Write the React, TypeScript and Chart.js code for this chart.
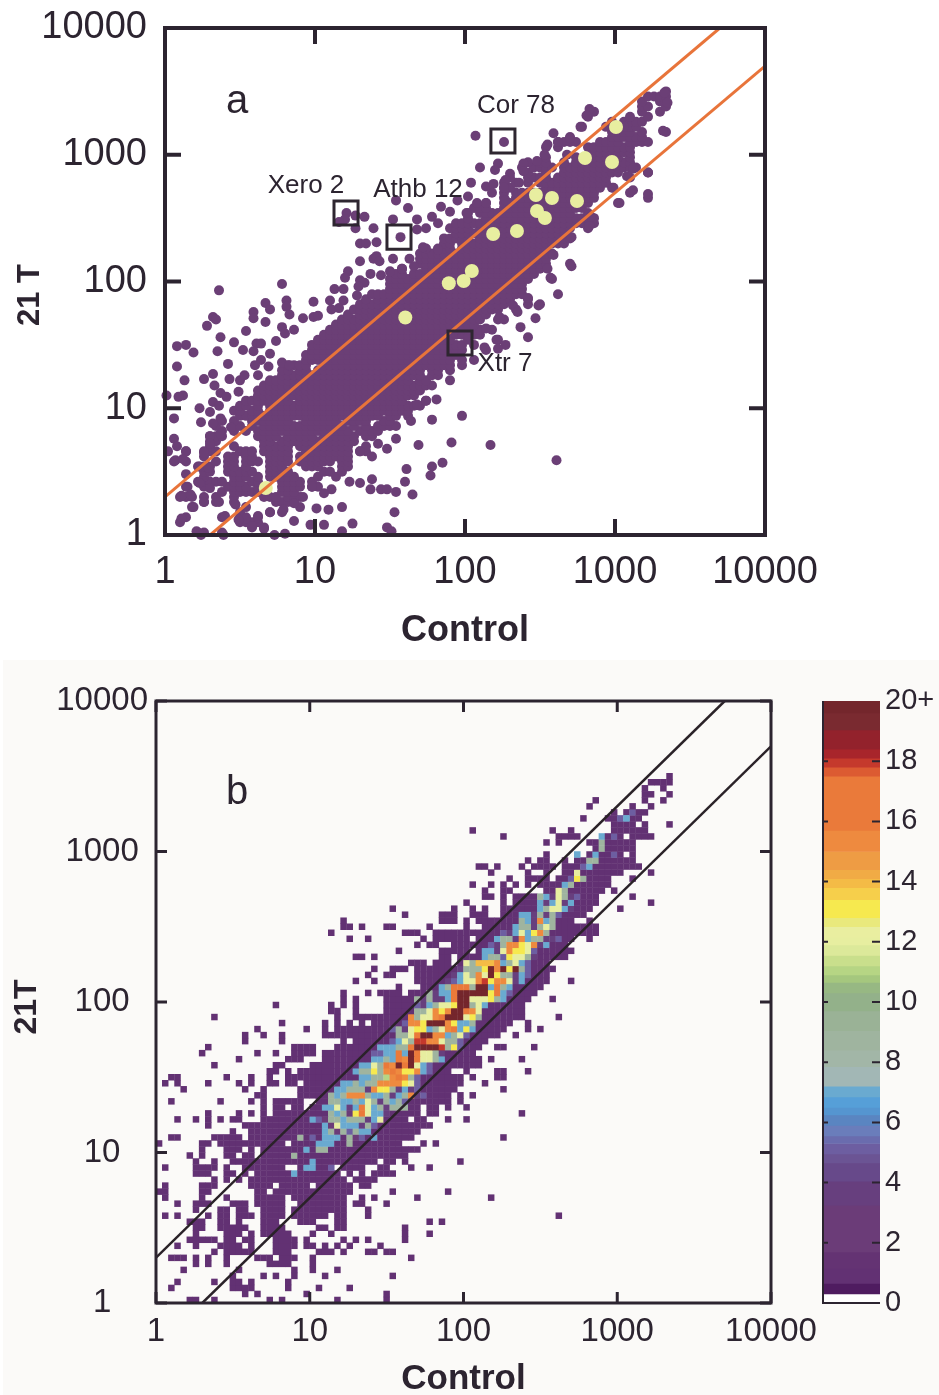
import React, { useEffect, useRef } from "react";
import { Chart, registerables } from "chart.js";

Chart.register(...registerables);

const axisTicks = [1, 10, 100, 1000, 10000];
const binsPerDecade = 25;
const ridgeBinsAbove = 13;
const ridgeBinsBelow = 17;

// Occupied bins of the expression histogram. Array index = 21T bin, tokens = Control bins.
const lowRows = [
  "5-6 9 18 20 29 37", "14 16 24 37", "2 12-15 21 26 31", "3 9 12-13 15 21", "12 17 19 22 27 38",
  "4 13 22 25 29", "6 8 11 18-21 25", "2-4 6 8 11 16-18 20-22 25 41",
  "9 11-15 19-21 26-28 30 34-35 37-38", "3 6 10-13 15 19-22 24-25 27 29 31 36",
  "5-9 11-12 14-15 19-22 24 30 32 34 40", "6 11-13 15 17-21 25 28 40 44",
  "6-7 10-14 17-20 26-27 29-30 40", "5-7 10-11 13 17-19 23-25 29-30 44 46",
  "1 3 8 10-11 13-15 17-20 22-27 29-30 34 65", "6 10-11 13-14 17-20 22-30 34",
  "3 6-8 12-14 16-20 23-30 32-33 37", "1 7 11 16-20 22-30 33 35 42 54",
  "0-1 7-8 16-17 19-31 38 47", "1 7-9 15-18 20-24 26-31 33-34",
  "9 11 13 15-30 32-35", "6-8 11-12 14 16-29 31 33 35-38",
  "1 6-9 11 14-20 23-28 30-33 36-37 41 44", "6 9 12-35 37-38 40 49",
  "5 7 11-12 14-15 17-40", "7 11-13 15 17-42", "0 7-8 10-20 22-39 43 45",
  "2-3 9-13 15-41 56", "12 15-42", "8 14-44",
];
const midRows = [
  "3 6 8 10 12-13 17-40 42-43 47 50", "8 13 15 17 19-42 44-45 59", "17 19-20 22-23 25-42 44-45 47 50",
  "2 10 15 17 19-23 26-47 49", "16-17 23-47 49 51", "4 14 17 23-48 56",
  "1 3 8 13 15 18-19 21-22 24-49 53", "2-3 11 15 18 21-49 51 55-56", "18-19 21 23-47 50 55-56 60",
  "9 19-20 25-52", "13 21-23 27-52 54 59", "7 16 19 22-25 27-51",
  "8 22-25 29-52 55-56 61", "14 20 30 32-53", "14 17 20 27-55 58",
  "16 24 27 29-56 60 62", "20 27 29 31 33 35-57 60", "9 29 32-59 65",
  "28-29 32 37-59", "19 28 30 32 37-59", "30 32 37-60 64", "30 34 36-39 41-61",
  "39 43-62", "32 35 42-63 67", "34 37-38 42-63", "35 38-40 42-64",
  "41-43 45-47 49-63", "32-33 35 46-47 49-66", "39 46-50 52-67", "42 44-45 48-66",
];
const highRows = [
  "31 34 43 45-50 52-67 70", "28 40-42 45-71", "30-31 33 37-38 44 50 53-71", "30 46-48 50 52-67 70",
  "40 46-48 51-53 56-69", "38 48 51 53 56-70 75", "50 56 58-71 80", "53-54 56 58-71 77",
  "53 56-57 63-72 74", "51 54 56 58 60 62-73", "57 60-63 65-73 77", "54 60 63 66-75 80",
  "52-53 55 59 61-64 66-78", "60 62-63 66 68-77", "63 68 70-75 77", "71-77", "63 65 70-77",
  "56 65-68 72-75 77-80", "51 64 67 74-79", "74-77 79 83", "69 73-75 77-78", "74 76-79",
  "70 77 80", "71 79 82", "79-80 83", "79 82", "80-83", "83",
];

// Counts inside the ridge: [21T bin, first Control bin, base-21 counts, 0 = leave as is].
const lowCore = [
  [21, 22, "7"], [22, 24, "77005"], [23, 25, "7"], [24, 22, "9"], [25, 24, "7099"],
  [26, 26, "77700900"], [27, 23, "9050777093507"], [28, 27, "79395977"], [29, 27, "73c777495"],
  [30, 25, "75399799947c"], [31, 28, "9793dgc774"], [32, 27, "77c747gc794999"],
  [33, 28, "997797c949795"], [34, 28, "979fff9779479f45"], [35, 29, "779994fdd94745"],
  [36, 30, "779799ffffdc5"], [37, 33, "7799bfgf95"], [38, 32, "799d9fgfddf75"],
  [39, 33, "77c9gfkgkc75"], [40, 35, "7797gfkgcc97"],
];
const midCore = [
  [41, 35, "5577g7kgcc94"], [42, 36, "77799gkkkki9d5"], [43, 38, "57c9iiffc995"],
  [44, 39, "99cgkkff79c5"], [45, 38, "594cdd79cfg7d7"], [46, 40, "5ffdkkkfd779"],
  [47, 41, "f9ccfgkkkcd9"], [48, 42, "99cfdfkkgfc"], [49, 42, "5479ccdkk9c7"],
  [50, 42, "949447gkkcccd97"], [51, 44, "9477gkkkkkdg75"], [52, 46, "79ggg9kk7g97"],
  [53, 47, "457ccfidffc47"], [54, 48, "47c9fckd99475"], [55, 49, "4999dkfkdk95"],
  [56, 50, "c9eeef79c75"], [57, 53, "7995dcc94"], [58, 53, "774cfddc5"], [59, 54, "549ffdcf47"],
];
const highCore = [
  [60, 55, "7994f799445"], [61, 56, "547c7df9"], [62, 58, "79949c9"], [63, 59, "974f79"],
  [64, 59, "7749495"], [65, 62, "79cc74"], [66, 62, "747c47"], [67, 62, "974c945"],
  [68, 65, "c9"], [69, 66, "79"], [70, 67, "5d9"], [71, 68, "c"], [72, 69, "57"], [73, 70, "99"],
  [74, 68, "7007005"], [75, 72, "9"], [76, 72, "9"], [77, 72, "705"], [80, 75, "57"], [81, 77, "5"],
];

// Single genes of panel a away from the ridge, as [log10 Control, log10 21 T].
const farAboveSmall = [
  [1.21, 2.54], [1.27, 2.52], [1.2, 2.49], [1.16, 2.47], [1.33, 2.51], [1.27, 2.42], [1.39, 2.42],
  [1.3, 2.3], [1.34, 2.3], [1.3, 2.16], [1.39, 2.18], [1.22, 2.08], [1.2, 2.03], [1.37, 2.06],
  [1.3, 2.01], [1.33, 1.99], [0.78, 1.98], [0.36, 1.93], [1.13, 1.94], [1.19, 1.94], [1.29, 1.96],
  [0.67, 1.83], [0.7, 1.78], [0.81, 1.85], [0.81, 1.8], [0.83, 1.74], [0.99, 1.84], [1.1, 1.85],
  [1.19, 1.85], [1.11, 1.78], [1.16, 1.79], [1.28, 1.89], [0.59, 1.76], [0.59, 1.71], [0.67, 1.68],
  [0.32, 1.72], [0.34, 1.7], [0.28, 1.65], [0.54, 1.61], [0.37, 1.56], [0.46, 1.52], [0.78, 1.64],
  [0.8, 1.59], [0.86, 1.62], [0.92, 1.71], [0.99, 1.72], [1.02, 1.73], [0.74, 1.53], [0.61, 1.51],
  [0.64, 1.51], [0.59, 1.45], [0.52, 1.46], [0.35, 1.45], [0.7, 1.43], [0.64, 1.38], [0.6, 1.34],
  [0.42, 1.35], [0.32, 1.27], [0.26, 1.23], [0.43, 1.23], [0.5, 1.22], [0.53, 1.26], [0.62, 1.26],
  [0.69, 1.33], [0.78, 1.36], [0.83, 1.34], [0.13, 1.22], [0.08, 1.33], [0.08, 1.49], [0.14, 1.5],
  [0.19, 1.44], [0.33, 1.18], [0.49, 1.13], [0.37, 1.12], [0.41, 1.09], [0.12, 1.1], [0.09, 1.09],
  [0.01, 1.1], [0.32, 1.05], [0.36, 1.02], [0.23, 1.0], [0.3, 0.97], [0.37, 0.92], [0.24, 0.89],
  [0.32, 0.88], [0.44, 0.85], [0.06, 0.92], [0.06, 0.76], [0.08, 0.7], [0.14, 0.66], [0.07, 0.59],
  [0.12, 0.6], [0.02, 0.66], [0.3, 0.78], [0.37, 0.8], [0.3, 0.72], [0.26, 0.65], [0.23, 0.54],
  [0.29, 0.53], [0.14, 0.48], [0.23, 0.41], [0.15, 0.38], [0.11, 0.31], [0.17, 0.32], [0.3, 0.37],
  [0.19, 0.22], [0.26, 0.26], [0.36, 0.26], [0.11, 0.13], [0.4, 0.15], [0.47, 0.24], [0.21, 0.03],
];
const farBelowSmall = [
  [1.68, 1.03], [1.74, 1.06], [1.81, 1.07], [1.78, 0.91], [1.98, 0.94], [1.64, 0.9], [1.54, 0.76],
  [1.69, 0.71], [1.91, 0.73], [1.42, 0.72], [1.48, 0.68], [1.38, 0.62], [1.3, 0.66], [1.78, 0.54],
  [1.85, 0.57], [1.77, 0.47], [1.61, 0.52], [1.6, 0.42], [1.38, 0.44], [1.3, 0.41], [1.23, 0.42],
  [1.37, 0.36], [1.44, 0.36], [1.48, 0.36], [1.54, 0.34], [1.65, 0.32], [1.53, 0.18], [1.18, 0.22],
  [1.09, 0.2], [1.25, 0.09], [1.06, 0.08], [0.97, 0.08], [0.8, 0.01], [0.73, 0], [0.66, 0.05],
  [0.58, 0.07], [1.48, 0.06], [1.51, 0.03], [1.18, 0.03], [0.86, 0.11], [0.79, 0.2], [1.01, 0.21],
  [1.11, 0.36], [1.06, 0.33], [0.98, 0.38], [0.92, 0.3], [0.86, 0.25], [0.7, 0.18], [0.62, 0.15],
  [0.54, 0.13], [0.49, 0.12], [0.39, 0], [0.24, 0], [2.17, 0.71], [2.61, 0.59],
];
const farAboveLarge = [
  [3.33, 3.49], [3.35, 3.41], [3.32, 3.19], [2.83, 3.36], [2.81, 3.31], [2.77, 3.22], [2.59, 3.17],
  [2.55, 3.08], [2.62, 3.1], [2.7, 3.13], [2.07, 3.15], [2.26, 3.1], [2.68, 3.0], [2.53, 3.0],
  [2.48, 2.95], [2.39, 2.93], [2.39, 2.87], [2.1, 2.9], [2.22, 2.93], [2.2, 2.88], [2.3, 2.85],
  [2.04, 2.78], [2.14, 2.75], [2.19, 2.77], [2.27, 2.8], [2.36, 2.78], [2.26, 2.74], [2.02, 2.67],
  [2.14, 2.62], [2.27, 2.64], [1.54, 2.64], [1.62, 2.58], [1.84, 2.59], [1.9, 2.55], [1.95, 2.64],
  [2.01, 2.54], [2.08, 2.62], [1.52, 2.49], [1.78, 2.51], [1.68, 2.49], [1.82, 2.46], [1.74, 2.42],
  [1.68, 2.41], [1.41, 2.31], [1.57, 2.35], [1.72, 2.27], [1.82, 2.25], [1.41, 2.2], [1.52, 2.18],
  [1.63, 2.18], [1.43, 2.16], [1.5, 2.08], [1.44, 2.05], [1.66, 2.12], [1.58, 2.1],
];
const farBelowLarge = [
  [3.22, 2.86], [3.22, 2.69], [3.12, 2.72], [3.03, 2.62], [2.99, 2.74], [3.12, 2.89], [3.08, 2.83],
  [2.83, 2.44], [2.84, 2.51], [2.71, 2.35], [2.71, 2.12], [2.59, 2.21], [2.55, 2.1], [2.57, 2.03],
  [2.62, 1.9], [2.42, 1.87], [2.49, 1.81], [2.32, 1.81], [2.35, 1.76], [2.47, 1.71], [2.23, 1.72],
  [2.37, 1.64], [2.42, 1.56], [2.21, 1.54], [2.27, 1.5], [2.13, 1.48], [2.22, 1.47], [2.14, 1.63],
];

// Highlighted genes in panel a (Control, 21 T).
const highlightControl = [1016, 631, 955, 558, 297, 380, 302, 341, 222, 154, 111, 98, 78, 40, 4.7];
const highlight21T = [1656, 943, 877, 432, 481, 456, 360, 317, 250, 237, 121, 101, 97, 52, 2.35];

// Boxed genes in panel a.
const boxedControl = [179, 16.1, 36.3, 92.6];
const boxed21T = [1283, 347, 224, 32.7];

// Two-fold guide lines.
const upperLineControl = [1, 5000];
const upperLine21T = [2, 10000];
const lowerLineControl = [2, 10000];
const lowerLine21T = [1, 5000];

// Colour bar bands.
const bandEdges = [
  20, 19.6, 19.04, 18.4, 18.1, 17.8, 17.5, 15.7, 15, 14.4, 14.1, 13.8, 13.4, 12.8, 12.5, 12.15, 11.9,
  11.55, 11.2, 10.9, 10.65, 10.3, 9.7, 9.05, 8.4, 7.85, 7.2, 6.85, 6.5, 6.25, 5.9, 5.55, 5.3, 4.95,
  4.65, 4.05, 3.25, 1.7, 1.15, 0.65, 0.3, 0,
];
const bandColors = [
  "#74262c", "#7a2a30", "#93222c", "#a8252b", "#c5392c", "#dc5b32", "#ea7a3a", "#ee8a3f", "#ee9c44",
  "#f1ab45", "#f4bb46", "#f6cf4b", "#f6e94f", "#e9e97c", "#e9eea0", "#e7eea0", "#dce99a", "#c9df8c",
  "#b6d584", "#a5c77e", "#97b883", "#93b18a", "#9ab296", "#9fb49f", "#a2b6a7", "#a2b7b5", "#6aaad0",
  "#569fd8", "#5595d0", "#5a85c1", "#6a7dbb", "#6a6cae", "#6d5ea1", "#6b5494", "#67498a", "#673f7e",
  "#6b3c78", "#643373", "#623173", "#4f1c60", "#ffffff",
];
const colorbarTicks = [0, 2, 4, 6, 8, 10, 12, 14, 16, 18, 20];

const FONT = "'Liberation Sans', Arial, sans-serif";
const INK = "#2c2430";
const DIGITS = "0123456789abcdefghijk";

function binValue(i: number) {
  return Math.pow(10, (i + 0.5) / binsPerDecade);
}

function buildCells() {
  const grid = new Map<string, number>();
  [...lowRows, ...midRows, ...highRows].forEach((row, r) => {
    row.split(" ").forEach((token) => {
      const [a, b] = token.split("-").map(Number);
      for (let c = a; c <= (b === undefined ? a : b); c++) grid.set(c + "," + r, 1);
    });
  });
  [...lowCore, ...midCore, ...highCore].forEach((entry) => {
    const [r, start, digits] = entry as [number, number, string];
    digits.split("").forEach((ch, k) => {
      const v = DIGITS.indexOf(ch);
      if (v > 0) grid.set(start + k + "," + r, v);
    });
  });
  return [...grid.entries()].map(([key, count]) => {
    const [c, r] = key.split(",").map(Number);
    return { c, r, x: binValue(c), y: binValue(r), count };
  });
}

function colorFor(v: number) {
  for (let i = 0; i < bandColors.length; i++) {
    if (v <= bandEdges[i] && v >= bandEdges[i + 1]) return bandColors[i];
  }
  return "#ffffff";
}

function pairs(xs: number[], ys: number[]) {
  return xs.map((x, i) => ({ x, y: ys[i] }));
}

function framePlugin(lineWidth: number, tickLen: number) {
  return {
    id: "frame",
    afterDatasetsDraw(chart: any) {
      const { ctx, chartArea: a, scales } = chart;
      ctx.save();
      ctx.strokeStyle = INK;
      ctx.lineWidth = lineWidth;
      ctx.lineCap = "square";
      ctx.strokeRect(a.left, a.top, a.right - a.left, a.bottom - a.top);
      ctx.lineCap = "butt";
      ctx.beginPath();
      axisTicks.forEach((v) => {
        const px = scales.x.getPixelForValue(v);
        ctx.moveTo(px, a.bottom);
        ctx.lineTo(px, a.bottom - tickLen);
        ctx.moveTo(px, a.top);
        ctx.lineTo(px, a.top + tickLen);
        const py = scales.y.getPixelForValue(v);
        ctx.moveTo(a.left, py);
        ctx.lineTo(a.left + tickLen, py);
        ctx.moveTo(a.right, py);
        ctx.lineTo(a.right - tickLen, py);
      });
      ctx.stroke();
      ctx.restore();
    },
  };
}

function textPlugin(items: { text: string; x: number; y: number; size: number; bold?: boolean; turned?: boolean }[]) {
  return {
    id: "labels",
    afterDraw(chart: any) {
      const { ctx } = chart;
      ctx.save();
      ctx.fillStyle = INK;
      ctx.textAlign = "center";
      ctx.textBaseline = "middle";
      items.forEach((t) => {
        ctx.save();
        ctx.font = (t.bold ? "bold " : "") + t.size + "px " + FONT;
        ctx.translate(t.x, t.y);
        if (t.turned) ctx.rotate(-Math.PI / 2);
        ctx.fillText(t.text, 0, 0);
        ctx.restore();
      });
      ctx.restore();
    },
  };
}

function fixFit(s: any, size: number) {
  if (s.isHorizontal()) s.height = size;
  else s.width = size;
  s.paddingTop = 0;
  s.paddingBottom = 0;
  s.paddingLeft = 0;
  s.paddingRight = 0;
}

function logAxis(o: { size: number; fit: number; pad: number; crossAlign?: string; title?: any }) {
  return {
    type: "logarithmic",
    min: 1,
    max: 10000,
    grid: { display: false, drawTicks: false },
    border: { display: false },
    afterBuildTicks: (s: any) => {
      s.ticks = axisTicks.map((v) => ({ value: v, major: true }));
    },
    afterFit: (s: any) => fixFit(s, o.fit),
    ticks: {
      autoSkip: false,
      maxRotation: 0,
      padding: o.pad,
      crossAlign: o.crossAlign || "near",
      color: INK,
      font: { family: FONT, size: o.size },
      callback: (v: any) => String(v),
    },
    title: o.title || { display: false },
  };
}

function controlTitle(size: number, bottom: number, line: number) {
  return {
    display: true,
    text: "Control",
    color: INK,
    padding: { top: 0, bottom },
    font: { family: FONT, size, weight: "bold", lineHeight: line },
  };
}

export default function App() {
  const refA = useRef<HTMLCanvasElement>(null);
  const refB = useRef<HTMLCanvasElement>(null);
  const refC = useRef<HTMLCanvasElement>(null);

  useEffect(() => {
    const cells = buildCells();
    const ridgeDots = cells
      .filter((c) => c.r - c.c <= ridgeBinsAbove && c.c - c.r <= ridgeBinsBelow)
      .map((c) => ({ x: c.x, y: c.y }));
    const farDots = [...farAboveSmall, ...farBelowSmall, ...farAboveLarge, ...farBelowLarge].map(([lx, ly]) => ({
      x: Math.pow(10, lx),
      y: Math.pow(10, ly),
    }));
    const base = {
      responsive: false,
      animation: false,
      events: [],
      plugins: { legend: { display: false }, tooltip: { enabled: false } },
    };

    const chartA = new Chart(refA.current as any, {
      type: "scatter",
      data: {
        datasets: [
          {
            data: [...ridgeDots, ...farDots],
            order: 4,
            clip: false,
            pointRadius: 5,
            pointBorderWidth: 0,
            pointBackgroundColor: "#6b3f76",
          },
          {
            data: pairs(highlightControl, highlight21T),
            order: 3,
            pointRadius: 7,
            pointBorderWidth: 0,
            pointBackgroundColor: "#e8eea0",
          },
          {
            data: pairs(upperLineControl, upperLine21T),
            order: 2,
            showLine: true,
            pointRadius: 0,
            borderColor: "#e8743a",
            borderWidth: 3,
          },
          {
            data: pairs(lowerLineControl, lowerLine21T),
            order: 2,
            showLine: true,
            pointRadius: 0,
            borderColor: "#e8743a",
            borderWidth: 3,
          },
          {
            data: pairs(boxedControl, boxed21T),
            order: 1,
            pointStyle: "rect",
            pointRadius: 17,
            pointBorderWidth: 3,
            pointBorderColor: "#2e2630",
            pointBackgroundColor: "rgba(0,0,0,0)",
          },
        ],
      },
      options: {
        ...base,
        layout: { padding: { top: 28, right: 174, left: 0, bottom: 0 } },
        scales: {
          x: logAxis({ size: 38, fit: 125, pad: 15, title: controlTitle(36, 11, 1) }),
          y: logAxis({ size: 38, fit: 165, pad: 18 }),
        },
      },
      plugins: [
        framePlugin(4, 16),
        textPlugin([
          { text: "a", x: 237, y: 102, size: 40 },
          { text: "Cor 78", x: 516, y: 106, size: 26 },
          { text: "Xero 2", x: 306, y: 186, size: 26 },
          { text: "Athb 12", x: 418, y: 190, size: 26 },
          { text: "Xtr 7", x: 505, y: 364, size: 26 },
          { text: "21 T", x: 30, y: 295, size: 31, bold: true, turned: true },
        ]),
      ],
    } as any);

    const chartB = new Chart(refB.current as any, {
      type: "scatter",
      data: {
        datasets: [
          {
            data: pairs(upperLineControl, upperLine21T),
            order: 1,
            showLine: true,
            pointRadius: 0,
            borderColor: "#2a2228",
            borderWidth: 2.5,
          },
          {
            data: pairs(lowerLineControl, lowerLine21T),
            order: 1,
            showLine: true,
            pointRadius: 0,
            borderColor: "#2a2228",
            borderWidth: 2.5,
          },
          {
            data: cells.map((c) => ({ x: c.x, y: c.y })),
            order: 2,
            pointStyle: "rect",
            pointRadius: 4.6,
            pointBorderWidth: 0,
            pointBackgroundColor: cells.map((c) => colorFor(c.count)),
          },
        ],
      },
      options: {
        ...base,
        layout: { padding: { top: 41, right: 168, left: 0, bottom: 0 } },
        scales: {
          x: logAxis({ size: 33, fit: 92, pad: 9, title: controlTitle(35, 0, 0.9) }),
          y: logAxis({ size: 33, fit: 156, pad: 8, crossAlign: "center" }),
        },
      },
      plugins: [
        framePlugin(3, 11),
        textPlugin([
          { text: "b", x: 237, y: 133, size: 40 },
          { text: "21T", x: 27, y: 347, size: 32, bold: true, turned: true },
        ]),
      ],
    } as any);

    const chartC = new Chart(refC.current as any, {
      type: "bar",
      data: {
        labels: ["count"],
        datasets: bandColors.map((color, i) => ({
          data: [[bandEdges[i + 1], bandEdges[i]]],
          grouped: false,
          backgroundColor: color,
          borderWidth: 0,
          barPercentage: 1,
          categoryPercentage: 1,
        })),
      },
      options: {
        ...base,
        layout: { padding: { top: 21, right: 0, left: 43, bottom: 17 } },
        scales: {
          x: { display: false, stacked: false },
          y: {
            position: "right",
            min: 0,
            max: 20,
            grid: { display: false, drawTicks: false },
            border: { display: false },
            afterBuildTicks: (s: any) => {
              s.ticks = colorbarTicks.map((v) => ({ value: v }));
            },
            afterFit: (s: any) => fixFit(s, 59),
            ticks: {
              autoSkip: false,
              padding: 5,
              color: INK,
              font: { family: FONT, size: 29 },
              callback: (v: any) => (v === 20 ? "20+" : String(v)),
            },
          },
        },
      },
      plugins: [
        {
          id: "barFrame",
          afterDatasetsDraw(chart: any) {
            const { ctx, chartArea: a, scales } = chart;
            ctx.save();
            ctx.strokeStyle = INK;
            ctx.lineWidth = 2;
            ctx.beginPath();
            ctx.moveTo(a.left, a.top);
            ctx.lineTo(a.left, a.bottom);
            ctx.lineTo(a.right, a.bottom);
            colorbarTicks.forEach((v) => {
              if (v === 0 || v === 20) return;
              const py = scales.y.getPixelForValue(v);
              ctx.moveTo(a.left, py);
              ctx.lineTo(a.left + 5, py);
              ctx.moveTo(a.right, py);
              ctx.lineTo(a.right - 8, py);
            });
            ctx.stroke();
            ctx.restore();
          },
        },
      ],
    } as any);

    return () => {
      chartA.destroy();
      chartB.destroy();
      chartC.destroy();
    };
  }, []);

  const abs = (left: number, top: number): React.CSSProperties => ({ position: "absolute", left, top, display: "block" });

  return (
    <div style={{ position: "absolute", left: 0, top: 0, width: 939, height: 1395, background: "#fff", overflow: "hidden" }}>
      <div style={{ position: "absolute", left: 3, top: 660, width: 936, height: 735, background: "#fbfaf8" }} />
      <canvas ref={refA} width={939} height={660} style={abs(0, 0)} />
      <canvas ref={refB} width={939} height={735} style={abs(0, 660)} />
      <canvas ref={refC} width={159} height={640} style={abs(780, 680)} />
    </div>
  );
}
